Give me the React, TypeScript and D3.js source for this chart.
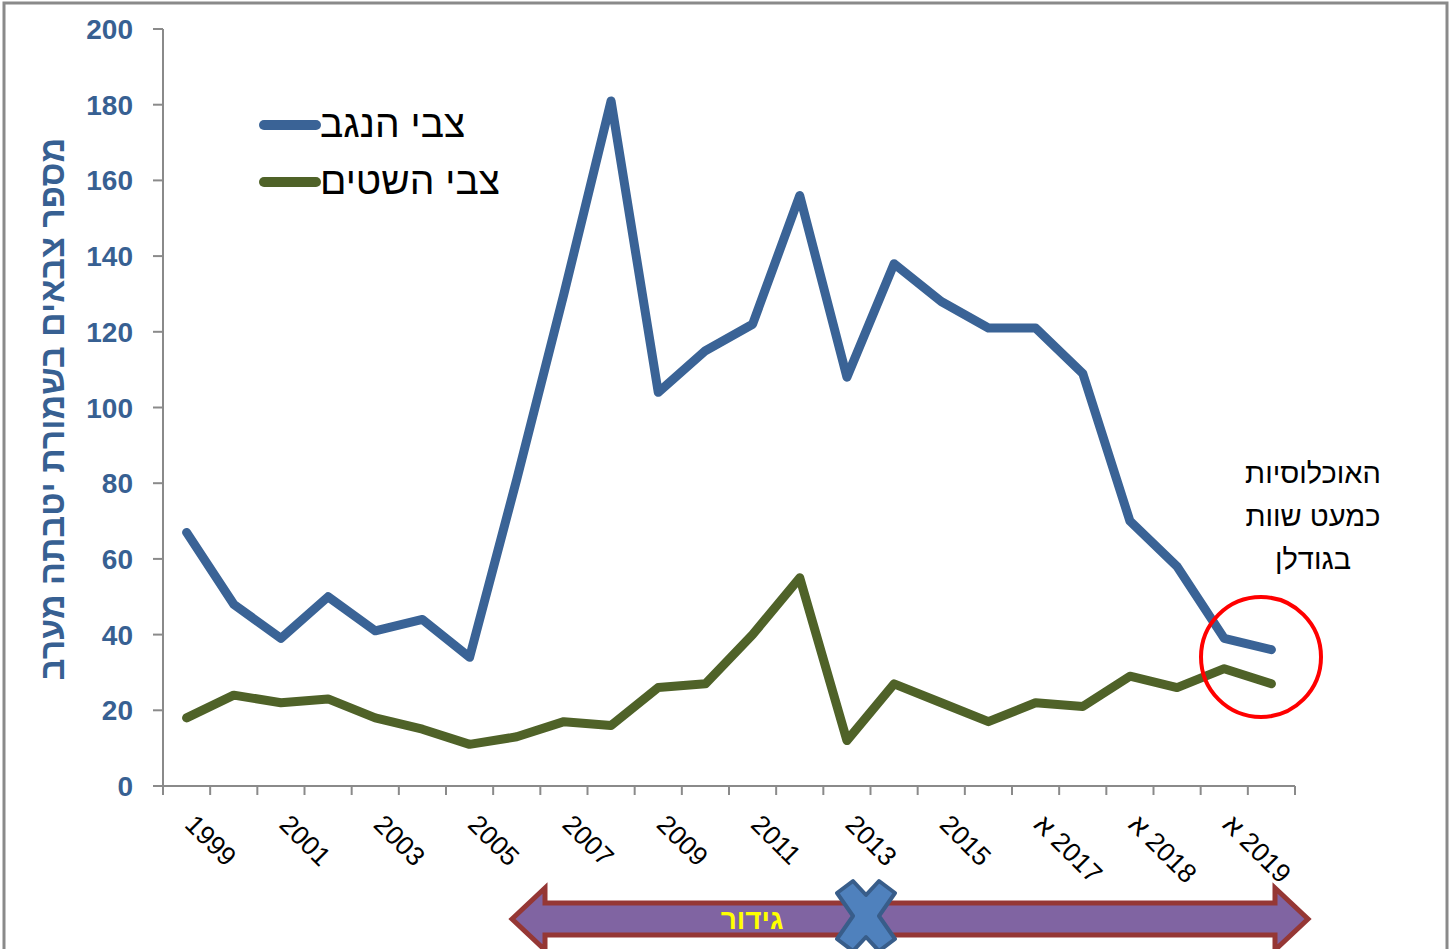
import React from "react";
import * as d3 from "d3";

const categories = [
  "1999", "2000", "2001", "2002", "2003", "2004", "2005", "2006",
  "2007", "2008", "2009", "2010", "2011", "2012", "2013", "2014",
  "2015", "2016", "2017 א", "2017 ב", "2018 א", "2018 ב", "2019 א", "2019 ב",
];
// visual order of the labels that are shown (every other category)
const tickLabels = [
  "1999", "", "2001", "", "2003", "", "2005", "", "2007", "", "2009", "",
  "2011", "", "2013", "", "2015", "", "א 2017", "", "א 2018", "", "א 2019", "",
];
const negev = [67, 48, 39, 50, 41, 44, 34, 81, 130, 181, 104, 115, 122, 156, 108, 138, 128, 121, 121, 109, 70, 58, 39, 36];
const shitim = [18, 24, 22, 23, 18, 15, 11, 13, 17, 16, 26, 27, 40, 55, 12, 27, 22, 17, 22, 21, 29, 26, 31, 27];
const yTicks = [0, 20, 40, 60, 80, 100, 120, 140, 160, 180, 200];
const seriesNames = ["צבי הנגב", "צבי השטים"];
const noteLines = ["האוכלוסיות", "כמעט שוות", "בגודלן"];

const W = 1455;
const H = 949;
const left = 163, right = 1295, top = 29, bottom = 786;
const font = "'Liberation Sans', Arial, sans-serif";
const blue = "#3A6396";
const green = "#4F6228";
const axisBlue = "#376092";

export default function App() {
  const x = d3.scaleBand<string>().domain(categories).range([left, right]);
  const y = d3.scaleLinear().domain([0, 200]).range([bottom, top]);
  const bw = x.bandwidth();
  const cx = (i: number) => (x(categories[i]) as number) + bw / 2;

  const line = d3.line<number>()
    .x((_, i) => cx(i))
    .y((d) => y(d));

  // arrow under the axis
  const aL = 512, aR = 1308, aY = 919, hw = 16, hh = 31, head = 33;
  const arrow = [
    [aL, aY], [aL + head, aY - hh], [aL + head, aY - hw], [aR - head, aY - hw],
    [aR - head, aY - hh], [aR, aY], [aR - head, aY + hh], [aR - head, aY + hw],
    [aL + head, aY + hw], [aL + head, aY + hh],
  ];
  const xc = 866, yc = 916;
  const cross = [
    [-29, -23], [-13, -35], [0, -21], [13, -35], [29, -23], [13, 0],
    [29, 23], [13, 35], [0, 21], [-13, 35], [-29, 23], [-13, 0],
  ].map(([dx, dy]) => [xc + dx, yc + dy]);

  return (
    <svg width={W} height={H} style={{ position: "absolute", left: 0, top: 0, background: "#fff" }} fontFamily={font}>
      <rect x={4} y={3} width={1443} height={H + 10} fill="#fff" stroke="#8a8a8a" strokeWidth={3} />

      {/* y axis */}
      <line x1={left} x2={left} y1={top} y2={bottom} stroke="#8a8a8a" strokeWidth={2} />
      {yTicks.map((t) => (
        <g key={t}>
          <line x1={left - 10} x2={left} y1={y(t)} y2={y(t)} stroke="#8a8a8a" strokeWidth={2} />
          <text x={133} y={y(t)} dy="0.36em" textAnchor="end" fontSize={28} fontWeight="bold" fill={axisBlue}>{t}</text>
        </g>
      ))}
      <text transform={`translate(64,409) rotate(-90)`} textAnchor="middle"
        fontSize={34} fontWeight="bold" fill={axisBlue}>מספר צבאים בשמורת יטבתה מערב</text>

      {/* x axis */}
      <line x1={left} x2={right} y1={bottom} y2={bottom} stroke="#8a8a8a" strokeWidth={2} />
      {d3.range(categories.length + 1).map((i) => (
        <line key={i} x1={left + i * bw} x2={left + i * bw} y1={bottom} y2={bottom + 9} stroke="#8a8a8a" strokeWidth={2} />
      ))}
      {tickLabels.map((t, i) => t && (
        <text key={i} transform={`translate(${cx(i) - 3},${826}) rotate(45)`} fontSize={26.5} fill="#000"
          style={{ unicodeBidi: "bidi-override", direction: "ltr" }}>{t}</text>
      ))}

      {/* series */}
      <path d={line(negev) as string} fill="none" stroke={blue} strokeWidth={9} strokeLinejoin="round" strokeLinecap="round" />
      <path d={line(shitim) as string} fill="none" stroke={green} strokeWidth={9} strokeLinejoin="round" strokeLinecap="round" />

      {/* legend */}
      {seriesNames.map((n, i) => (
        <g key={n}>
          <line x1={264} x2={316} y1={125 + i * 57} y2={125 + i * 57} stroke={i === 0 ? blue : green} strokeWidth={10} strokeLinecap="round" />
          <text x={320} y={137 + i * 57} fontSize={39} fill="#000">{n}</text>
        </g>
      ))}

      {/* annotation */}
      {noteLines.map((l, i) => (
        <text key={l} x={1313} y={483 + i * 43} textAnchor="middle" fontSize={29} fill="#000">{l}</text>
      ))}
      <circle cx={1261} cy={657} r={60} fill="none" stroke="#FF0000" strokeWidth={4} />

      {/* fence arrow */}
      <polygon points={arrow.map((p) => p.join(",")).join(" ")} fill="#8064A2" stroke="#953735" strokeWidth={5} />
      <text x={752} y={919} dy="0.36em" textAnchor="middle" fontSize={28} fontWeight="bold" fill="#FFFF00">גידור</text>
      <polygon points={cross.map((p) => p.join(",")).join(" ")} fill="#4F81BD" stroke="#385D8A" strokeWidth={4} strokeLinejoin="round" />
    </svg>
  );
}
